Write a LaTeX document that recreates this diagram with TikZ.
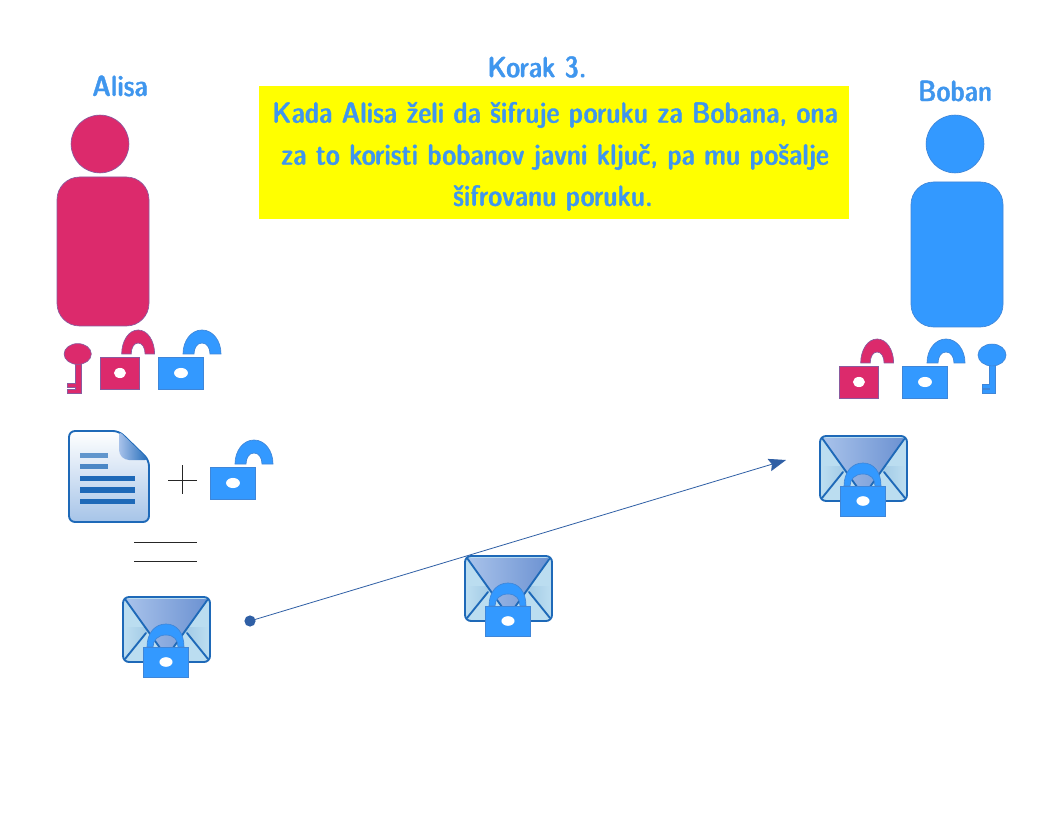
\documentclass[tikz,border=0pt]{standalone}
\usetikzlibrary{arrows.meta}
\definecolor{blueshape}{HTML}{3399FF}
\definecolor{redshape}{HTML}{DC2A6C}
\definecolor{redline}{HTML}{8A5A9E}
\definecolor{blueline}{HTML}{3F86D8}
\definecolor{textblue}{HTML}{3F96EE}
\definecolor{icondark}{HTML}{1E69B8}
\definecolor{arrowblue}{HTML}{2F5FA5}
\definecolor{bgyellow}{HTML}{FFFF00}
\definecolor{paperlow}{HTML}{A6C4E8}
\definecolor{flapl}{HTML}{A8C2EA}
\definecolor{flapr}{HTML}{6C92D2}
\definecolor{envlight}{HTML}{BBDDF0}
\definecolor{envdark}{HTML}{8FBBDD}
\font\titlefont="[lmsansdemicond10-regular]:embolden=1.2" at 22pt
\tikzset{
  redfill/.style={fill=redshape,draw=redline,line width=.5pt},
  bluefill/.style={fill=blueshape,draw=blueline,line width=.5pt},
  title/.style={text=textblue,font=\titlefont},
  iconline/.style={draw=icondark,line width=1.4pt},
  rule/.style={draw=black!85,line width=.6pt},
}
\newcommand{\openlock}[4]{% x,y,xscale,style
  \begin{scope}[shift={(#1,#2)},xscale=#3]
    \path[#4] (25,-3) .. controls (25,-16) and (33,-27) .. (44,-27) .. controls (55,-27) and (63,-16) .. (63,-3) -- (52,-3) .. controls (52,-9) and (49,-14) .. (44,-14) .. controls (39,-14) and (36,-9) .. (36,-3) -- cycle;
    \path[#4] (0,0) rectangle (45,32);
    \fill[white] (23,16) circle[x radius=5.2pt,y radius=3.8pt];
  \end{scope}}
\newcommand{\mailbox}[2]{% envelope with closed lock: x,y of top-left
  \begin{scope}[shift={(#1,#2)}]
    \fill[envlight,rounded corners=4.5pt] (0,0) rectangle (87,65);
    \shade[left color=envlight,right color=envlight,middle color=envdark] (2,30) -- (85,30) -- (85,62) -- (60,33) -- (43,60) -- (27,33) -- (2,62) -- cycle;
    \shade[left color=flapl,right color=flapr,rounded corners=1pt] (3,2) -- (84,2) -- (43.5,60) -- cycle;
    \draw[iconline,line join=round] (2,2) -- (43.5,60) -- (85,2);
    \draw[iconline,line cap=round] (2,62) -- (23,36) (85,62) -- (64,36);
    \draw[iconline,rounded corners=4.5pt] (0,0) rectangle (87,65);
    \path[bluefill] (24,50) .. controls (24,36) and (32,27) .. (43,27) .. controls (54,27) and (61,36) .. (61,50) -- (55,50) .. controls (55,43) and (51,38) .. (43,38) .. controls (35,38) and (30,43) .. (30,50) -- cycle;
    \path[bluefill] (20,50) rectangle (65,80);
    \fill[white] (43,65) circle[x radius=4.9pt,y radius=3.6pt];
  \end{scope}}
\begin{document}
\begin{tikzpicture}[x=.75pt,y=-.75pt]
\useasboundingbox (0,0) rectangle (1056,816);
\fill[white] (0,0) rectangle (1056,816);
% titles
\node[title] (alisa) at (120,86) {Alisa};
\node[title] (boban) at (955,91) {Boban};
\node[title] (korak) at (537,67) {Korak 3.};
\fill[bgyellow] (259,86) rectangle (849,219);
\node[title] (l1) at (555,115) {Kada Alisa želi da šifruje poruku za Bobana, ona};
\node[title] (l2) at (555,157) {za to koristi bobanov javni ključ, pa mu pošalje};
\node[title] (l3) at (553,198) {šifrovanu poruku.};
% people
\path[redfill] (100,144) circle[radius=21.7pt];
\path[redfill,rounded corners=17pt] (57,177) rectangle (149,326);
\path[bluefill] (955,144) circle[radius=21.7pt];
\path[bluefill,rounded corners=17pt] (911,182) rectangle (1003,327);
% left key
\path[redfill] (75,360) -- (81,360) -- (81,393) -- (67,393) -- (67,389) -- (75,389) -- (75,387) -- (67,387) -- (67,383) -- (75,383) -- cycle;
\path[redfill] (77.7,354) circle[x radius=10.2pt,y radius=7.8pt];
% left locks
\openlock{100}{357}{.867}{redfill}
\openlock{158}{357}{1}{bluefill}
% right locks and key
\openlock{839}{366}{.867}{redfill}
\openlock{902}{366}{1}{bluefill}
\path[bluefill] (989,360) -- (995,360) -- (995,393) -- (982,393) -- (982,389) -- (989,389) -- (989,388) -- (982,388) -- (982,384) -- (989,384) -- cycle;
\path[bluefill] (992,355) circle[x radius=10.5pt,y radius=8.2pt];
% document
\shade[top color=white,bottom color=paperlow,rounded corners=4.5pt] (69,431) -- (119,431) -- (149,460) -- (149,522) -- (69,522) -- cycle;
\draw[iconline,rounded corners=4.5pt] (69,431) -- (119,431) -- (149,460) -- (149,522) -- (69,522) -- cycle;
\shade[left color=flapl,right color=icondark,rounded corners=3pt] (119,431) -- (149,460) -- (125,460) -- (119,454) -- cycle;
\fill[icondark!70!white] (80,453) rectangle (108,458);
\fill[icondark!80!white] (80,464) rectangle (108,469);
\fill[icondark] (80,476) rectangle (135,481);
\fill[icondark] (80,487) rectangle (135,493);
\fill[icondark] (80,499) rectangle (135,504);
% plus and lock
\draw[rule] (168,480) -- (197,480) (182,465) -- (182,494);
\openlock{210}{467}{1}{bluefill}
% equals
\draw[rule] (134,542) -- (197,542) (134,561) -- (197,561);
% envelopes
\mailbox{123}{597}
\mailbox{465}{556}
\mailbox{820}{436}
% connector
\coordinate (src) at (250,621);
\coordinate (dst) at (786,460);
\fill[arrowblue] (src) circle[radius=4.2pt];
\draw[arrowblue,line width=.6pt,-{Stealth[length=13pt,width=9.5pt,inset=2pt]}] (src) -- (dst);
\end{tikzpicture}
\end{document}
